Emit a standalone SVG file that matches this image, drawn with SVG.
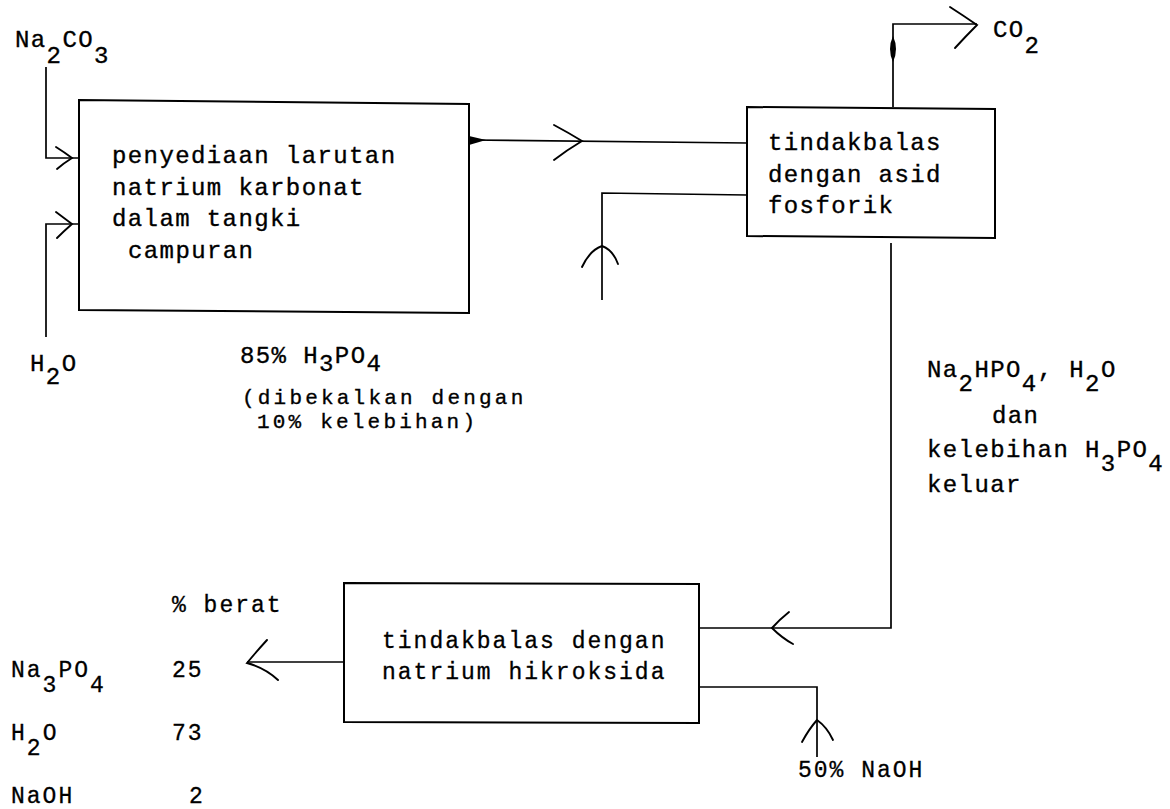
<svg xmlns="http://www.w3.org/2000/svg" width="1170" height="809" viewBox="0 0 1170 809">
<style>
.bg{fill:#fff}
.box{fill:none;stroke:#000;stroke-width:2}
.ln{fill:none;stroke:#000;stroke-width:1.7}
.ah{fill:none;stroke:#000;stroke-width:1.9;stroke-linecap:round}
.blob{fill:#000}
.t{font-family:"Liberation Mono","DejaVu Sans Mono",monospace;font-size:24px;letter-spacing:1.4px;fill:#000;stroke:#000;stroke-width:0.35}
.n{font-family:"Liberation Mono","DejaVu Sans Mono",monospace;font-size:21px;letter-spacing:3.2px;fill:#000;stroke:#000;stroke-width:0.35}
.s{font-family:"Liberation Mono","DejaVu Sans Mono",monospace;font-size:23px;letter-spacing:2px;fill:#000;stroke:#000;stroke-width:0.3}
</style>
<rect class="bg" x="0" y="0" width="1170" height="809"/>

<g id="connectors">
  <!-- Na2CO3 feed -->
  <path class="ln" d="M46,67 V158 H79"/>
  <path class="ah" d="M56,147 Q64,152 72,158 Q64,163 57,169"/>
  <!-- H2O feed -->
  <path class="ln" d="M46,337 V224 H79"/>
  <path class="ah" d="M56,212 Q64,218 72,224 Q64,231 57,238"/>
  <!-- box1 to box2 -->
  <path class="ln" d="M469,140 L747,143"/>
  <polygon class="blob" points="469,136 486,140 469,145"/>
  <path class="ah" d="M554,125 Q569,133 582,141 Q567,150 554,160"/>
  <!-- H3PO4 feed -->
  <path class="ln" d="M602,300 V193 L747,195"/>
  <path class="ah" d="M582,267 Q590,250 602,246 Q613,250 618,264"/>
  <!-- CO2 out -->
  <path class="ln" d="M893,107 V24 H977"/>
  <path class="blob" d="M893,36 Q899,49 893,62 Q887,49 893,36 Z"/>
  <path class="ah" d="M950,7 Q964,16 977,25 Q965,37 955,48"/>
  <!-- box2 to box3 -->
  <path class="ln" d="M891,243 V628 H699"/>
  <path class="ah" d="M789,612 Q779,620 772,628 Q782,638 793,644"/>
  <!-- product out -->
  <path class="ln" d="M344,662 H247"/>
  <path class="ah" d="M267,640 Q256,652 247,663 Q265,668 278,680"/>
  <!-- NaOH feed -->
  <path class="ln" d="M699,687 H817 V757"/>
  <path class="ah" d="M802,742 Q809,729 817,720 Q827,727 833,740"/>
</g>

<g id="node-mixing">
  <polygon class="box" points="79,100 469,104 469,313 79,310"/>
  <text class="t" x="112" y="163">penyediaan larutan</text>
  <text class="t" x="112" y="195">natrium karbonat</text>
  <text class="t" x="112" y="226">dalam tangki</text>
  <text class="t" x="128" y="258">campuran</text>
</g>

<g id="node-acid">
  <polygon class="box" points="747,107 995,109 995,238 747,236"/>
  <text class="t" x="768" y="150">tindakbalas</text>
  <text class="t" x="768" y="182">dengan asid</text>
  <text class="t" x="768" y="213">fosforik</text>
</g>

<g id="node-naoh">
  <polygon class="box" points="344,583 699,584 699,723 344,722"/>
  <text class="s" x="382" y="648">tindakbalas dengan</text>
  <text class="s" x="382" y="679">natrium hikroksida</text>
</g>

<g id="labels">
  <text class="t" x="15" y="47">Na<tspan dy="16">2</tspan><tspan dy="-16">CO</tspan><tspan dy="16">3</tspan></text>
  <text class="t" x="30" y="371">H<tspan dy="13">2</tspan><tspan dy="-13">O</tspan></text>
  <text class="t" x="240" y="363">85% H<tspan dy="8">3</tspan><tspan dy="-8">PO</tspan><tspan dy="8">4</tspan></text>
  <text class="n" x="242" y="404">(dibekalkan dengan</text>
  <text class="n" x="257" y="428">10% kelebihan)</text>
  <text class="t" x="993" y="37">CO<tspan dy="16">2</tspan></text>
  <text class="t" x="927" y="377">Na<tspan dy="14">2</tspan><tspan dy="-14">HPO</tspan><tspan dy="14">4</tspan><tspan dy="-14">, H</tspan><tspan dy="14">2</tspan><tspan dy="-14">O</tspan></text>
  <text class="t" x="992" y="423">dan</text>
  <text class="t" x="927" y="457">kelebihan H<tspan dy="14">3</tspan><tspan dy="-14">PO</tspan><tspan dy="14">4</tspan></text>
  <text class="t" x="927" y="492">keluar</text>
  <text class="s" x="798" y="777">50% NaOH</text>
  <text class="s" x="172" y="612">% berat</text>
  <text class="s" x="11" y="677">Na<tspan dy="15">3</tspan><tspan dy="-15">PO</tspan><tspan dy="15">4</tspan></text>
  <text class="s" x="172" y="677">25</text>
  <text class="s" x="11" y="740">H<tspan dy="15">2</tspan><tspan dy="-15">O</tspan></text>
  <text class="s" x="172" y="740">73</text>
  <text class="s" x="11" y="803">NaOH</text>
  <text class="s" x="189" y="803">2</text>
</g>
</svg>
